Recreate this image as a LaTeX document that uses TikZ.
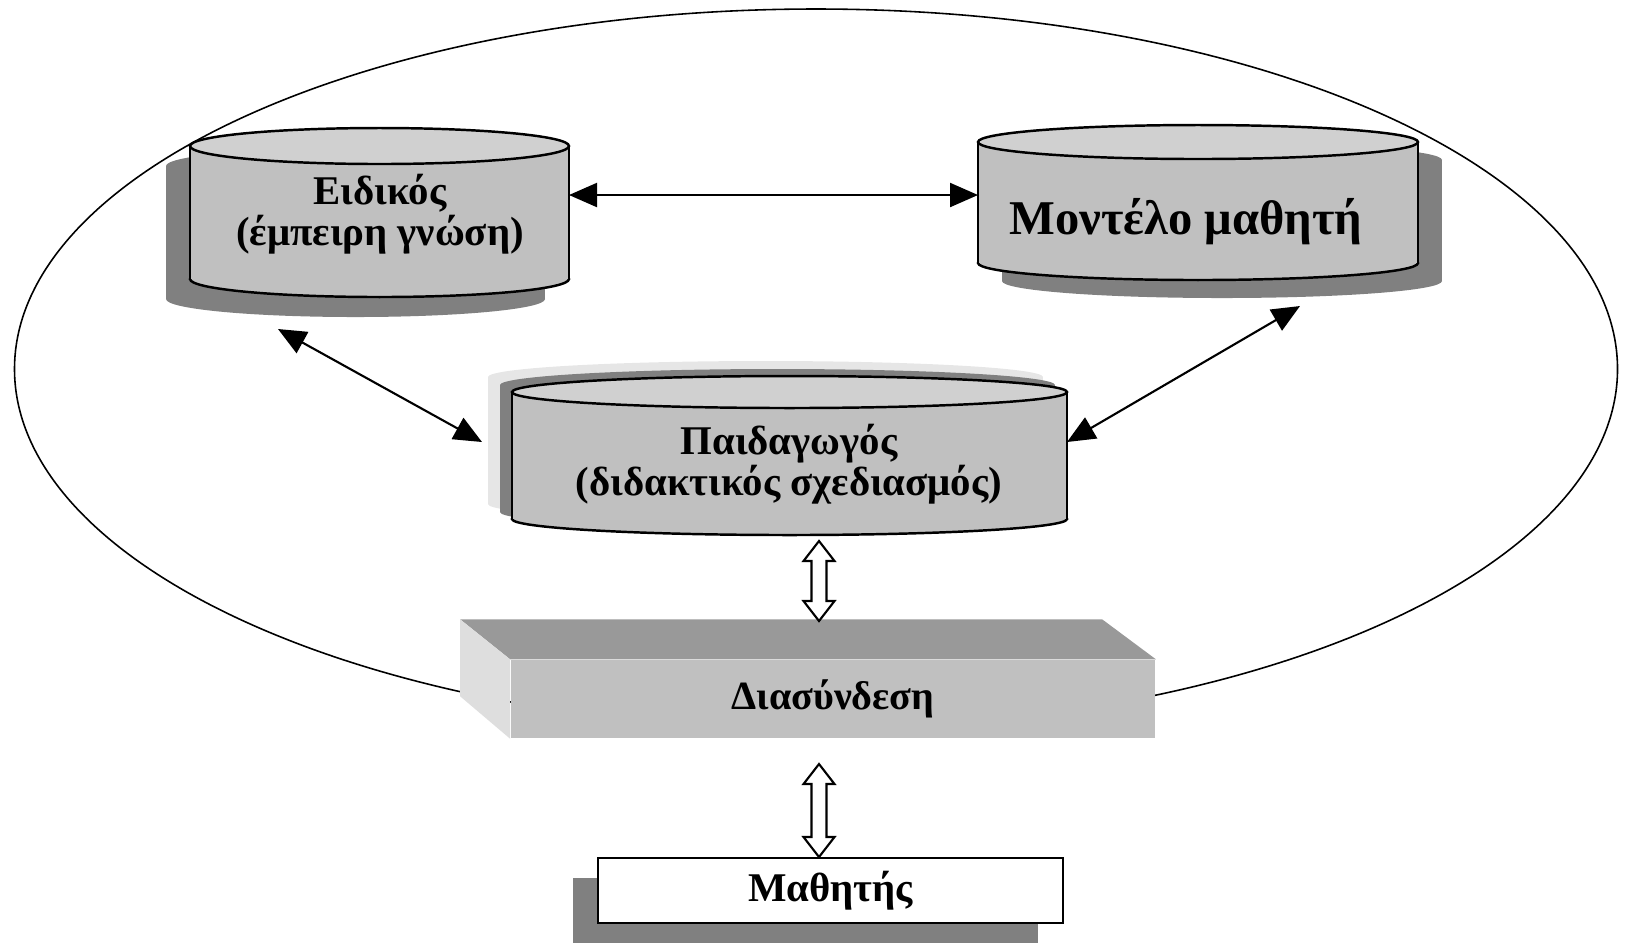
\documentclass[tikz,border=0pt]{standalone}
\usepackage{fontspec}
\setmainfont{Liberation Serif}
\usetikzlibrary{arrows.meta,calc,shadows}

\definecolor{shadowgray}{HTML}{808080}
\definecolor{lightshade}{HTML}{E6E6E6}
\definecolor{cyltop}{HTML}{D0D0D0}
\definecolor{cylgray}{HTML}{C0C0C0}
\definecolor{boxtop}{HTML}{999999}
\definecolor{boxleft}{HTML}{DEDEDE}

% flat silhouette of a cylinder: cx, ytop, ybot, rx, ry, colour
\newcommand{\cylshade}[6]{%
  \fill[#6] (#1,#3) ellipse [x radius=#4, y radius=#5];
  \fill[#6] ({#1-#4},#2) rectangle ({#1+#4},#3);
  \fill[#6] (#1,#2) ellipse [x radius=#4, y radius=#5];
}
% cylinder with outline: name, cx, ytop, ybot, rx, ry
\newcommand{\cylbody}[6]{%
  \filldraw[cylline, fill=cylgray] (#2,#4) ellipse [x radius=#5, y radius=#6];
  \fill[cylgray] ({#2-#5},#3) rectangle ({#2+#5},#4);
  \draw[cylline] ({#2-#5},#3) -- ({#2-#5},#4) ({#2+#5},#3) -- ({#2+#5},#4);
  \filldraw[cylline, fill=cyltop] (#2,#3) ellipse [x radius=#5, y radius=#6];
  \coordinate (#1-w) at ({#2-#5},{(#3+#4)/2});
  \coordinate (#1-e) at ({#2+#5},{(#3+#4)/2});
}
% hollow two-headed arrow between two points
\newcommand{\hollowarr}[2]{%
  \filldraw[hollow] (#1) -- ++(15.5,20) -- ++(-8,0) -- ($(#2)+(7.5,-20)$) -- ++(8,0)
    -- (#2) -- ++(-15.5,-20) -- ++(8,0) -- ($(#1)+(-7.5,20)$) -- ++(-8,0) -- cycle;
}

\begin{document}
\begin{tikzpicture}[
    x=0.01cm, y=-0.01cm,
    cylline/.style={line width=0.7pt},
    lbl/.style={font=\bfseries\fontsize{11.6}{11.8}\selectfont, align=center},
    biglbl/.style={font=\bfseries\fontsize{13.8}{15}\selectfont},
    biarr/.style={<->, >={Triangle[length=0.28cm,width=0.24cm]}, line width=0.6pt},
    hollow/.style={fill=white, draw, line width=0.6pt, line join=miter},
    front/.style={fill=cylgray, minimum width=6.44cm, minimum height=0.78cm, inner sep=0pt,
                  font=\bfseries\fontsize{11.4}{13}\selectfont},
    stud/.style={draw, fill=white, line width=0.7pt, minimum width=4.65cm, minimum height=0.65cm,
                 inner sep=0pt, font=\bfseries\fontsize{11.6}{13}\selectfont,
                 general shadow={fill=shadowgray, shadow xshift=-0.25cm, shadow yshift=-0.2cm}}
]
  \useasboundingbox (0,0) rectangle (1628,944);

  % system border
  \draw[line width=0.45pt] (816,369) ellipse [x radius=801.5, y radius=360];

  % expert
  \cylshade{355.5}{166}{299}{189.5}{18}{shadowgray}
  \cylbody{eid}{379.5}{146}{279}{189.5}{18}
  \node[lbl] (eidtext) at (380,214) {Ειδικός\\(έμπειρη γνώση)};

  % student model
  \cylshade{1222}{160}{281}{220}{17}{shadowgray}
  \cylbody{mod}{1198}{142}{263}{220}{17}
  \node[biglbl] (modtext) at (1186,222) {Μοντέλο μαθητή};

  % tutor
  \cylshade{765.5}{377}{504}{277.5}{16}{lightshade}
  \cylshade{777.5}{385}{512}{277.5}{16}{shadowgray}
  \cylbody{ped}{789.5}{392}{519}{277.5}{16}
  \node[lbl] (pedtext) at (789,464) {Παιδαγωγός\\(διδακτικός σχεδιασμός)};

  % links between the modules
  \coordinate (eidout) at (278,329);
  \coordinate (pedin) at (482,442);
  \coordinate (modout) at (1300,306);
  \draw[biarr] (eid-e |- 0,195) -- (mod-w |- 0,195);
  \draw[biarr] (eidout) -- (pedin);
  \draw[biarr] (modout) -- (ped-e |- 0,442);

  % interface
  \node[front] (link) at (833,699) {Διασύνδεση};
  \fill[boxtop] (link.north west) -- ++(-50,-40) -- ++(642,0) -- (link.north east) -- cycle;
  \fill[boxleft] (link.north west) -- ++(-50,-40) -- ++(0,77) -- (link.south west) -- cycle;

  % learner
  \node[stud] (stud) at (830.5,890.5) {Μαθητής};

  \coordinate (h1a) at (819,541);
  \coordinate (h1b) at (819,621);
  \coordinate (h2a) at (819,764);
  \coordinate (h2b) at (819,857);
  \hollowarr{h1a}{h1b}
  \hollowarr{h2a}{h2b}
\end{tikzpicture}
\end{document}
